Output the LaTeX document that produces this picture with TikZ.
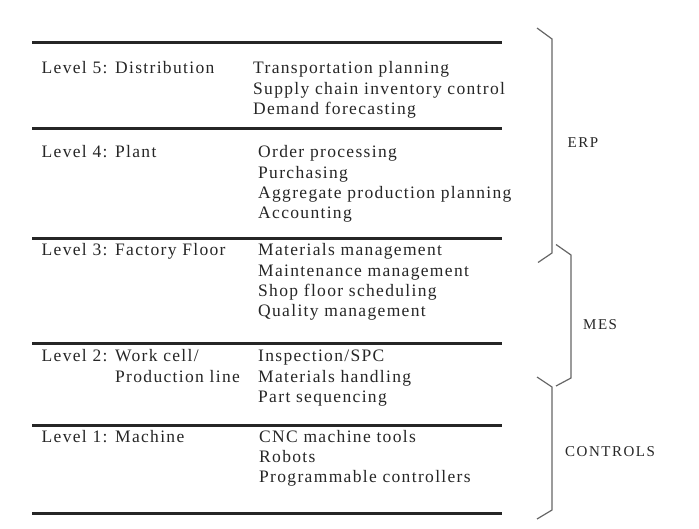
\documentclass[tikz,border=0pt]{standalone}
\usepackage{fontspec}
\setmainfont{Liberation Serif}
\newfontfamily\tabfont[LetterSpace=7.6]{Liberation Serif}
\newfontfamily\grpfont[LetterSpace=10]{Liberation Serif}
\usetikzlibrary{positioning}
\tikzset{
  levelname/.style= {
    anchor = base west,
    inner sep = 0pt,
    text = black!85,
    font = \fontsize{17.5}{20.3}\tabfont
  },
  levelitem/.style= {
    levelname
  },
  levelrule/.style= {
    draw = black!85,
    line width = 3pt
  },
  groupbrace/.style= {
    draw = black!60,
    line width = 1.2pt
  },
  grouplabel/.style= {
    anchor = west,
    inner sep = 0pt,
    text = black!85,
    font = \fontsize{15}{18}\grpfont
  }
}
\begin{document}
\begin{tikzpicture}[x=1pt,y=-1pt]
  \useasboundingbox (0,0) rectangle (699,529);

  % rules between the levels
  \foreach \y [count=\i] in {43,129,239,344,425,513}
    \draw[levelrule] (32,\y) coordinate (rl\i) -- (502,\y) coordinate (rr\i);

  % level 5
  \node[levelname] (lev5) at (41.5,74) {Level 5: Distribution};
  \foreach \t [count=\i from 0] in {Transportation planning,Supply chain inventory control,Demand forecasting}
    \node[levelitem] (lev5-\i) at (253,74+20.3*\i) {\t};

  % level 4
  \node[levelname] (lev4) at (41.5,158) {Level 4: Plant};
  \foreach \t [count=\i from 0] in {Order processing,Purchasing,Aggregate production planning,Accounting}
    \node[levelitem] (lev4-\i) at (258,158+20.3*\i) {\t};

  % level 3
  \node[levelname] (lev3) at (41.5,256) {Level 3: Factory Floor};
  \foreach \t [count=\i from 0] in {Materials management,Maintenance management,Shop floor scheduling,Quality management}
    \node[levelitem] (lev3-\i) at (258,256+20.3*\i) {\t};

  % level 2
  \node[levelname] (lev2) at (41.5,361.7) {Level 2: Work cell/};
  \node[levelname] (lev2b) at (115,382) {Production line};
  \foreach \t [count=\i from 0] in {Inspection/SPC,Materials handling,Part sequencing}
    \node[levelitem] (lev2-\i) at (258,361.7+20.3*\i) {\t};

  % level 1
  \node[levelname] (lev1) at (41.5,442.3) {Level 1: Machine};
  \foreach \t [count=\i from 0] in {CNC machine tools,Robots,Programmable controllers}
    \node[levelitem] (lev1-\i) at (259,442.3+20.3*\i) {\t};

  % braces
  \draw[groupbrace] (537,28) -- (552,39) -- (552,253) -- (538,262.5);
  \draw[groupbrace] (556,244.5) -- (571,255) -- (571,378) -- (556,386);
  \draw[groupbrace] (537,377) -- (552,387) -- (552,510) -- (537,519);

  \node[grouplabel] (erp) at (567.5,143) {ERP};
  \node[grouplabel] (mes) at (583,325) {MES};
  \node[grouplabel] (ctrl) at (565,452) {CONTROLS};

\end{tikzpicture}
\end{document}
